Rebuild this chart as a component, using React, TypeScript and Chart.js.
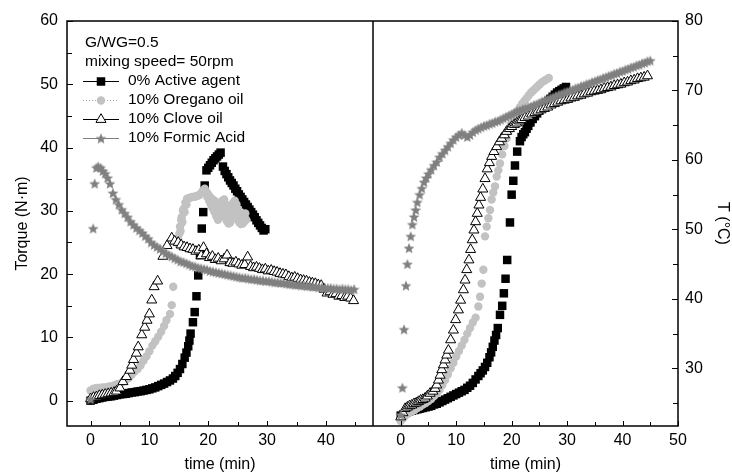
import React, { useEffect, useRef } from 'react';
import { Chart, registerables } from 'chart.js';

Chart.register(...registerables);

type Pt = [number, number];

// ---------------- text ----------------
const seriesLabels = ['0% Active agent', '10% Oregano oil', '10% Clove oil', '10% Formic Acid'];
const legendHeader = ['G/WG=0.5', 'mixing speed= 50rpm'];
const xTitle = 'time (min)';
const torqueTitle = 'Torque (N\u00B7m)';
const tempTitle = 'T (\u00B0C)';

// ---------------- ticks ----------------
const torqueTicks = [0, 10, 20, 30, 40, 50, 60];
const torqueMinor = [5, 15, 25, 35, 45, 55];
const timeTicksLeft = [0, 10, 20, 30, 40];
const timeMinorLeft = [5, 15, 25, 35, 45];
const timeTicksRight = [0, 10, 20, 30, 40, 50];
const timeMinorRight = [5, 15, 25, 35, 45];
const tempTicks = [30, 40, 50, 60, 70, 80];
const tempMinor = [25, 35, 45, 55, 65, 75];

// ---------------- torque (left panel): [time, torque] ----------------
const torqueActive: Pt[] = [
  [0, 0.0], [0.5, 0.15], [1, 0.3], [1.5, 0.4], [2, 0.5], [2.5, 0.6], [3, 0.65], [3.5, 0.7], [4, 0.8], [4.5, 0.9],
  [5, 1.0], [5.5, 1.05], [6, 1.1], [6.5, 1.2], [7, 1.3], [7.5, 1.35], [8, 1.45], [8.5, 1.5], [9, 1.6], [9.5, 1.7],
  [10, 1.8], [10.5, 1.95], [11, 2.1], [11.5, 2.3], [12, 2.5], [12.5, 2.7], [13, 2.95], [13.5, 3.2], [14, 3.5],
  [14.4, 3.9], [14.8, 4.4], [15.2, 5.0], [15.6, 5.8], [16.0, 6.8], [16.3, 7.6], [16.6, 8.6], [16.8, 9.5], [17.0, 10.6],
  [17.4, 12.4], [17.7, 14.0], [18.0, 16.5], [18.3, 19.8], [18.6, 23.0], [18.9, 27.2], [19.15, 29.8], [19.4, 34.0],
  [19.7, 36.4], [20.0, 36.8], [20.3, 37.2], [20.6, 37.6], [20.9, 38.0], [21.2, 38.3], [21.5, 38.6], [21.8, 38.9],
  [22.1, 39.2], [22.5, 37.0], [22.8, 36.3], [23.1, 35.8], [23.4, 35.3], [23.7, 34.8], [24.0, 34.4], [24.3, 34.0],
  [24.6, 33.5], [24.9, 33.1], [25.2, 32.6], [25.5, 32.2], [25.8, 31.8], [26.1, 31.4], [26.4, 31.0], [26.7, 30.6],
  [27.0, 30.2], [27.3, 29.8], [27.6, 29.4], [27.9, 29.0], [28.2, 28.5], [28.5, 28.1], [28.8, 27.7], [29.1, 27.3],
  [29.4, 26.9], [29.7, 27.1],
];
const torqueOregano: Pt[] = [
  [0, 1.6], [0.5, 1.9], [1, 2.0], [1.5, 2.0], [2, 2.1], [2.5, 2.1], [3, 2.2], [3.5, 2.3], [4, 2.4], [4.5, 2.6],
  [5, 2.7], [5.5, 3.0], [6, 3.3], [6.5, 3.6], [7, 4.1], [7.5, 4.6], [8, 5.0], [8.5, 5.6], [9, 6.3], [9.5, 7.0],
  [10, 7.8], [10.5, 8.7], [11, 9.4], [11.5, 10.1], [12, 10.9], [12.5, 11.8], [12.9, 12.7], [13.5, 13.7], [13.8, 15.1],
  [14.05, 18.0], [14.9, 25.5], [15.0, 24.6], [15.1, 26.4], [15.2, 27.5], [15.3, 26.8], [15.4, 28.6], [15.5, 29.0],
  [15.6, 28.2], [15.7, 30.0], [15.8, 30.3], [16.0, 29.8], [16.1, 31.3], [16.3, 31.0], [16.4, 31.9], [16.7, 32.0],
  [17.0, 32.1], [17.3, 32.2], [17.6, 32.2], [17.9, 32.3], [18.2, 32.4], [18.5, 32.5], [18.8, 32.8], [19.1, 33.2],
  [19.4, 33.5], [19.7, 33.0], [19.85, 32.2], [20.0, 32.6], [20.15, 31.6], [20.3, 32.2], [20.45, 31.0], [20.6, 31.9],
  [20.75, 30.4], [20.9, 31.7], [21.05, 29.8], [21.2, 31.5], [21.35, 29.2], [21.5, 30.8], [21.65, 28.6], [21.8, 30.2],
  [21.95, 29.0], [22.1, 31.0], [22.25, 29.4], [22.4, 31.6], [22.55, 30.0], [22.7, 31.8], [22.85, 29.2], [23.0, 31.0],
  [23.15, 28.4], [23.3, 30.2], [23.45, 28.0], [23.6, 29.6], [23.75, 28.2], [23.9, 30.4], [24.05, 28.8], [24.2, 31.2],
  [24.35, 29.4], [24.5, 31.6], [24.65, 29.6], [24.8, 31.0], [24.95, 28.8], [25.1, 30.2], [25.25, 28.2], [25.4, 29.6],
  [25.55, 27.9], [25.7, 29.2], [25.85, 28.0], [26.0, 29.4], [26.15, 28.3], [26.3, 29.6], [26.45, 28.6],
];
const torqueClove: Pt[] = [
  [0, 0.3], [0.5, 0.5], [1, 0.6], [1.5, 0.8], [2, 0.9], [2.5, 1.0], [3, 1.1], [3.5, 1.2], [4, 1.3], [4.4, 1.5],
  [5.0, 2.0], [5.5, 3.0], [6.1, 3.8], [6.7, 4.8], [7.0, 5.6], [7.3, 6.5], [7.8, 7.5], [8.1, 8.5], [8.7, 10.4],
  [9.2, 11.6], [9.6, 12.7], [10.0, 13.7], [10.4, 15.9], [10.8, 18.0], [11.4, 18.9], [12.3, 22.8], [13.0, 24.5],
  [13.8, 25.7], [14.3, 25.2], [14.9, 25.0], [15.4, 24.6], [15.9, 24.3], [16.4, 24.2], [16.9, 24.0], [17.4, 23.9],
  [17.9, 23.6], [18.4, 23.8], [18.8, 22.9], [19.2, 24.2], [19.7, 23.2], [20.2, 22.6], [20.7, 22.8], [21.2, 22.3],
  [21.7, 22.5], [22.2, 22.1], [22.7, 22.4], [23.2, 23.0], [23.7, 21.8], [24.2, 21.7], [24.7, 21.9], [25.2, 21.6],
  [25.7, 21.4], [26.2, 21.5], [26.7, 22.7], [27.2, 21.2], [27.7, 21.0], [28.2, 21.1], [28.7, 20.9], [29.2, 20.7],
  [29.7, 20.8], [30.2, 20.5], [30.7, 20.6], [31.2, 20.4], [31.7, 20.3], [32.2, 20.1], [32.7, 20.0], [33.2, 19.9],
  [33.7, 19.6], [34.2, 19.4], [34.7, 19.5], [35.2, 19.3], [35.7, 19.1], [36.2, 19.0], [36.7, 18.9], [37.2, 18.7],
  [37.7, 18.6], [38.2, 18.5], [38.7, 18.3], [39.2, 18.2], [39.7, 17.6], [40.2, 17.0], [40.7, 17.2], [41.2, 16.8],
  [41.7, 16.9], [42.2, 16.5], [42.7, 16.6], [43.2, 16.3], [43.7, 16.5], [44.2, 16.2], [44.7, 15.8],
];
const torqueFormic: Pt[] = [
  [0, 0.2], [0.45, 27.2], [0.7, 34.3], [1.0, 36.8], [1.3, 37.0], [1.7, 36.8], [2.1, 36.3], [2.5, 35.9], [2.9, 35.2],
  [3.3, 34.3], [3.8, 32.8], [4.3, 31.8], [4.8, 31.0], [5.3, 30.2], [5.8, 29.6], [6.3, 29.0], [6.8, 28.3], [7.3, 27.8],
  [7.8, 27.3], [8.3, 26.9], [8.8, 26.5], [9.3, 26.0], [9.8, 25.6], [10.3, 25.0], [10.8, 24.6], [11.3, 24.3],
  [11.8, 24.0], [12.3, 23.6], [12.8, 23.3], [13.3, 23.0], [13.8, 22.8], [14.3, 22.5], [14.8, 22.3], [15.3, 22.0],
  [15.8, 21.9], [16.3, 21.7], [16.8, 21.5], [17.3, 21.3], [17.8, 21.2], [18.3, 21.0], [18.8, 20.9], [19.3, 20.8],
  [19.8, 20.7], [20.3, 20.5], [20.8, 20.4], [21.3, 20.3], [21.8, 20.2], [22.3, 20.1], [22.8, 20.0], [23.3, 19.9],
  [23.8, 19.8], [24.3, 19.7], [24.8, 19.6], [25.3, 19.5], [25.8, 19.4], [26.3, 19.4], [26.8, 19.3], [27.3, 19.2],
  [27.8, 19.2], [28.3, 19.1], [28.8, 19.0], [29.3, 19.0], [29.8, 18.9], [30.3, 18.9], [30.8, 18.8], [31.3, 18.7],
  [31.8, 18.7], [32.3, 18.6], [32.8, 18.6], [33.3, 18.5], [33.8, 18.4], [34.3, 18.4], [34.8, 18.3], [35.3, 18.3],
  [35.8, 18.2], [36.3, 18.2], [36.8, 18.1], [37.3, 18.1], [37.8, 18.0], [38.3, 18.0], [38.8, 17.9], [39.3, 17.9],
  [39.8, 17.8], [40.3, 17.8], [40.8, 17.8], [41.3, 17.7], [41.8, 17.7], [42.3, 17.6], [42.8, 17.7], [43.3, 17.6],
  [43.8, 17.6], [44.3, 17.5], [44.8, 17.6],
];

// ---------------- temperature (right panel): [time, T] ----------------
const tempActive: Pt[] = [
  [0, 23.2], [0.5, 23.4], [1, 23.6], [1.5, 23.8], [2, 23.9], [2.5, 24.0], [3, 24.1], [3.5, 24.2], [4, 24.3], [4.5, 24.4],
  [5, 24.5], [5.5, 24.6], [6, 24.8], [6.5, 24.9], [7, 25.1], [7.5, 25.3], [8, 25.5], [8.5, 25.7], [9, 25.9], [9.5, 26.1],
  [10, 26.3], [10.5, 26.5], [11, 26.7], [11.5, 26.9], [12, 27.2], [12.5, 27.5], [13, 27.9], [13.5, 28.4], [14, 28.9],
  [14.4, 29.3], [14.8, 29.7], [15.2, 30.2], [15.6, 30.8], [16.0, 31.6], [16.3, 32.3], [16.6, 33.1], [16.9, 34.0],
  [17.2, 34.8], [17.5, 35.8], [17.9, 37.7], [18.3, 39.0], [18.6, 40.8], [18.9, 42.9], [19.2, 45.6], [19.7, 51.0],
  [20.0, 55.0], [20.3, 57.0], [20.6, 59.2], [21.0, 61.2], [21.5, 62.7], [21.8, 63.3], [22.1, 63.7], [22.4, 64.0],
  [22.7, 64.5], [23.0, 64.9], [23.4, 65.4], [23.8, 65.9], [24.2, 66.3], [24.6, 66.7], [25.0, 67.1], [25.4, 67.5],
  [25.8, 67.9], [26.2, 68.2], [26.6, 68.5], [27.0, 68.8], [27.4, 69.1], [27.8, 69.4], [28.2, 69.7], [28.6, 69.9],
  [29.0, 70.1], [29.4, 70.3], [29.8, 70.5],
];
const tempOregano: Pt[] = [
  [0, 22.4], [0.5, 22.9], [1, 23.3], [1.5, 23.6], [2, 23.8], [2.5, 24.0], [3, 24.3], [3.5, 24.5], [4, 24.8], [4.5, 25.0],
  [5, 25.3], [5.5, 25.6], [6, 26.0], [6.5, 26.4], [7, 26.9], [7.5, 27.6], [8, 28.3], [8.5, 29.1], [9, 30.0], [9.5, 30.8],
  [10, 31.7], [10.5, 32.5], [11, 33.3], [11.5, 34.1], [12, 35.0], [12.5, 35.8], [13, 36.6], [13.5, 37.3], [14.0, 38.9],
  [14.3, 40.3], [14.6, 42.2], [14.9, 44.2], [15.2, 49.0], [15.5, 50.4], [15.8, 51.6], [16.1, 52.8], [16.4, 54.3],
  [16.7, 55.3], [17.0, 56.2], [17.3, 57.6], [17.6, 58.5], [17.9, 59.5], [18.3, 60.8], [18.7, 62.0], [19.1, 63.1],
  [19.5, 64.2], [19.9, 65.1], [20.3, 65.9], [20.7, 66.6], [21.1, 67.1], [21.5, 67.6], [21.9, 68.1], [22.3, 68.5],
  [22.7, 68.9], [23.1, 69.3], [23.5, 69.7], [23.9, 70.0], [24.3, 70.3], [24.7, 70.6], [25.1, 70.9], [25.5, 71.2],
  [25.9, 71.4], [26.3, 71.6], [26.7, 71.8],
];
const tempClove: Pt[] = [
  [0, 23.0], [0.4, 23.6], [0.8, 24.2], [1.2, 24.4], [1.6, 24.6], [2.0, 24.7], [2.4, 24.9], [2.8, 25.0], [3.2, 25.2],
  [3.6, 25.4], [4.0, 25.5], [4.4, 25.7], [4.8, 26.0], [5.3, 26.4], [5.8, 26.7], [6.2, 27.1], [6.5, 27.6], [6.8, 28.3],
  [7.1, 29.0], [7.4, 29.8], [7.7, 30.5], [8.0, 31.2], [8.3, 31.9], [8.6, 32.6], [9.0, 34.1], [9.5, 35.5], [9.9, 37.0],
  [10.4, 38.4], [10.8, 39.8], [11.3, 41.3], [11.6, 42.7], [11.9, 44.2], [12.3, 45.6], [12.6, 47.1], [12.9, 48.5],
  [13.2, 49.9], [13.5, 51.1], [13.8, 52.3], [14.1, 53.5], [14.4, 54.6], [14.8, 55.8], [15.2, 57.3], [15.6, 58.7],
  [16.0, 59.6], [16.4, 60.5], [16.8, 61.2], [17.3, 61.9], [17.8, 62.6], [18.2, 63.1], [18.7, 63.6], [19.1, 64.1],
  [19.6, 64.5], [20.0, 64.8], [20.5, 65.1], [20.9, 65.3], [21.4, 65.6], [21.8, 65.8], [22.4, 66.1], [23.0, 66.3],
  [23.6, 66.6], [24.2, 66.8], [24.7, 67.0], [25.3, 67.2], [25.9, 67.4], [26.5, 67.6], [27.1, 67.9], [27.7, 68.1],
  [28.3, 68.3], [28.9, 68.5], [29.5, 68.6], [30.1, 68.7], [30.7, 68.9], [31.3, 69.0], [31.9, 69.2], [32.5, 69.3],
  [33.1, 69.5], [33.7, 69.6], [34.3, 69.8], [34.9, 69.9], [35.5, 70.0], [36.1, 70.1], [36.7, 70.3], [37.3, 70.4],
  [37.9, 70.5], [38.5, 70.7], [39.1, 70.8], [39.7, 70.9], [40.3, 71.1], [40.9, 71.2], [41.5, 71.4], [42.1, 71.5],
  [42.7, 71.7], [43.3, 71.8], [43.9, 71.9], [44.5, 72.1],
];
const tempFormic: Pt[] = [
  [0, 23.3], [0.3, 27.2], [0.6, 35.6], [0.95, 41.9], [1.2, 45.0], [1.5, 47.3], [1.8, 49.0], [2.1, 50.7], [2.4, 51.8],
  [2.7, 52.8], [3.0, 53.9], [3.4, 55.0], [3.8, 55.9], [4.2, 56.8], [4.6, 57.4], [5.0, 58.0], [5.5, 58.6], [6.0, 59.2],
  [6.5, 59.7], [7.0, 60.4], [7.5, 60.9], [8.0, 61.4], [8.5, 61.9], [9.0, 62.4], [9.5, 62.9], [10.0, 63.3], [10.5, 63.6],
  [11.0, 63.9], [11.5, 63.6], [12.0, 63.3], [12.5, 63.6], [13.0, 64.0], [13.5, 64.3], [14.0, 64.5], [14.5, 64.7],
  [15.0, 64.9], [15.5, 65.0], [16.0, 65.2], [16.5, 65.3], [17.0, 65.5], [17.5, 65.6], [18.0, 65.8], [18.5, 66.0],
  [19.0, 66.2], [19.5, 66.4], [20.0, 66.6], [20.5, 66.8], [21.0, 67.0], [21.5, 67.1], [22.0, 67.3], [22.5, 67.4],
  [23.0, 67.6], [23.5, 67.7], [24.0, 67.9], [24.5, 68.0], [25.0, 68.2], [25.5, 68.4], [26.0, 68.6], [26.5, 68.7],
  [27.0, 68.9], [27.5, 69.0], [28.0, 69.2], [28.5, 69.4], [29.0, 69.5], [29.5, 69.7], [30.0, 69.8], [30.5, 70.0],
  [31.0, 70.1], [31.5, 70.3], [32.0, 70.4], [32.5, 70.6], [33.0, 70.7], [33.5, 70.9], [34.0, 71.0], [34.5, 71.2],
  [35.0, 71.3], [35.5, 71.5], [36.0, 71.6], [36.5, 71.8], [37.0, 71.9], [37.5, 72.1], [38.0, 72.2], [38.5, 72.4],
  [39.0, 72.5], [39.5, 72.7], [40.0, 72.8], [40.5, 73.0], [41.0, 73.1], [41.5, 73.3], [42.0, 73.4], [42.5, 73.6],
  [43.0, 73.7], [43.5, 73.9], [44.0, 74.0], [44.5, 74.2], [45.0, 74.3],
];

// ---------------- styling ----------------
const FONT = '"Liberation Sans", Arial, Helvetica, sans-serif';
const GREY_LIGHT = '#c2c2c2';
const GREY_DARK = '#808080';

function starImage(size: number, color: string): HTMLCanvasElement {
  const c = document.createElement('canvas');
  c.width = size;
  c.height = size;
  const ctx = c.getContext('2d')!;
  const cx = size / 2;
  const cy = size / 2 + 0.5;
  const R = size / 2 - 0.3;
  const r = R * 0.45;
  ctx.beginPath();
  for (let i = 0; i < 10; i++) {
    const a = -Math.PI / 2 + (i * Math.PI) / 5;
    const rad = i % 2 === 0 ? R : r;
    ctx.lineTo(cx + rad * Math.cos(a), cy + rad * Math.sin(a));
  }
  ctx.closePath();
  ctx.fillStyle = color;
  ctx.fill();
  return c;
}

function markerStyle(i: number, star: HTMLCanvasElement): any {
  if (i === 0) return { pointStyle: 'rect', pointRadius: 6, pointBackgroundColor: '#000', pointBorderColor: '#000', pointBorderWidth: 0, order: 4 };
  if (i === 1) return { pointStyle: 'circle', pointRadius: 4.2, pointBackgroundColor: GREY_LIGHT, pointBorderColor: GREY_LIGHT, pointBorderWidth: 0, order: 3 };
  if (i === 2) return { pointStyle: 'triangle', pointRadius: 5.8, pointBackgroundColor: '#fff', pointBorderColor: '#000', pointBorderWidth: 1, order: 2 };
  return { pointStyle: star, pointRadius: 6, pointBackgroundColor: GREY_DARK, pointBorderColor: GREY_DARK, pointBorderWidth: 0, order: 1 };
}

function makeDatasets(series: Pt[][], star: HTMLCanvasElement) {
  return series.map((s, i) => ({
    label: seriesLabels[i],
    data: s.map(([x, y]) => ({ x, y })),
    showLine: false,
    ...markerStyle(i, star),
  }));
}

const framePlugin = {
  id: 'frameTicks',
  afterDraw(chart: any, _args: any, opts: any) {
    const { ctx, chartArea } = chart;
    const { left, right, top, bottom } = chartArea;
    const xs = chart.scales.x;
    const ys = chart.scales.y;
    ctx.save();
    ctx.strokeStyle = '#000';
    ctx.lineWidth = 1;
    ctx.beginPath();
    const xMark = (vals: number[], len: number) => {
      for (const v of vals) {
        const p = Math.round(xs.getPixelForValue(v)) + 0.5;
        ctx.moveTo(p, bottom);
        ctx.lineTo(p, bottom - len);
      }
    };
    const edge = opts.ySide === 'left' ? left : right;
    const dir = opts.ySide === 'left' ? 1 : -1;
    const yMark = (vals: number[], len: number) => {
      for (const v of vals) {
        const p = Math.round(ys.getPixelForValue(v)) + 0.5;
        ctx.moveTo(edge, p);
        ctx.lineTo(edge + dir * len, p);
      }
    };
    xMark(opts.xMajor, 5);
    xMark(opts.xMinor, 4);
    yMark(opts.yMajor, 6);
    yMark(opts.yMinor, 5);
    ctx.stroke();
    ctx.lineWidth = 1.5;
    ctx.strokeRect(left, top, right - left, bottom - top);
    ctx.restore();
  },
};

function drawLegendMarker(ctx: CanvasRenderingContext2D, i: number, x: number, y: number, star: HTMLCanvasElement) {
  if (i === 0) {
    ctx.fillStyle = '#000';
    ctx.fillRect(x - 4.25, y - 4.25, 8.5, 8.5);
  } else if (i === 1) {
    ctx.fillStyle = GREY_LIGHT;
    ctx.beginPath();
    ctx.arc(x, y, 4.2, 0, Math.PI * 2);
    ctx.fill();
  } else if (i === 2) {
    const r = 5.8;
    ctx.beginPath();
    ctx.moveTo(x, y - r);
    ctx.lineTo(x + r * 0.866, y + r * 0.5);
    ctx.lineTo(x - r * 0.866, y + r * 0.5);
    ctx.closePath();
    ctx.fillStyle = '#fff';
    ctx.fill();
    ctx.lineWidth = 1;
    ctx.strokeStyle = '#000';
    ctx.stroke();
  } else {
    ctx.drawImage(star, x - star.width / 2, y - star.height / 2);
  }
}

function legendPlugin(star: HTMLCanvasElement) {
  return {
    id: 'customLegend',
    afterDraw(chart: any) {
      const ctx: CanvasRenderingContext2D = chart.ctx;
      ctx.save();
      ctx.font = `15.5px ${FONT}`;
      ctx.fillStyle = '#000';
      ctx.textBaseline = 'middle';
      ctx.textAlign = 'left';
      const x0 = 85;
      const y0 = 42.5;
      const dy = 19;
      legendHeader.forEach((t, i) => ctx.fillText(t, x0, y0 + i * dy));
      seriesLabels.forEach((lab, i) => {
        const y = Math.round(y0 + (i + 2) * dy) + 0.5;
        ctx.save();
        ctx.beginPath();
        ctx.lineWidth = 1;
        if (i === 1) {
          ctx.strokeStyle = '#a0a0a0';
          ctx.setLineDash([1, 2]);
        } else if (i === 3) {
          ctx.strokeStyle = GREY_DARK;
        } else {
          ctx.strokeStyle = '#000';
        }
        ctx.moveTo(83, y);
        ctx.lineTo(119, y);
        ctx.stroke();
        ctx.setLineDash([]);
        drawLegendMarker(ctx, i, 101, y, star);
        ctx.restore();
        ctx.fillStyle = '#000';
        ctx.fillText(lab, 128, y0 + (i + 2) * dy);
      });
      ctx.restore();
    },
  };
}

const tickFont = { family: FONT, size: 16 };
const titleFont = { family: FONT, size: 16 };

function fixedTicks(vals: number[]) {
  return (axis: any) => {
    axis.ticks = vals.map((v) => ({ value: v }));
  };
}

export default function App() {
  const leftRef = useRef<HTMLCanvasElement>(null);
  const rightRef = useRef<HTMLCanvasElement>(null);

  useEffect(() => {
    const star = starImage(12, GREY_DARK);
    const common = {
      responsive: false,
      animation: false as const,
      events: [] as any[],
    };

    const left = new Chart(leftRef.current!, {
      type: 'scatter',
      data: { datasets: makeDatasets([torqueActive, torqueOregano, torqueClove, torqueFormic], star) as any },
      options: {
        ...common,
        layout: { autoPadding: false, padding: { top: 21, left: 0, right: 0, bottom: 0 } },
        plugins: {
          legend: { display: false },
          tooltip: { enabled: false },
          frameTicks: { xMajor: timeTicksLeft, xMinor: timeMinorLeft, yMajor: torqueTicks, yMinor: torqueMinor, ySide: 'left' },
        } as any,
        scales: {
          x: {
            type: 'linear',
            position: 'bottom',
            min: -4,
            max: 48,
            afterBuildTicks: fixedTicks(timeTicksLeft),
            afterFit: (s: any) => { s.height = 48; },
            grid: { display: false, drawTicks: false },
            border: { display: false },
            ticks: { font: tickFont, color: '#000', padding: 5, maxRotation: 0, autoSkip: false },
            title: { display: true, text: xTitle, font: titleFont, color: '#000', padding: { top: 0, bottom: 0 } },
          },
          y: {
            type: 'linear',
            position: 'left',
            min: -4,
            max: 60,
            afterBuildTicks: fixedTicks(torqueTicks),
            afterFit: (s: any) => { s.width = 67; },
            grid: { display: false, drawTicks: false },
            border: { display: false },
            ticks: { font: tickFont, color: '#000', padding: 9, autoSkip: false },
            title: { display: true, text: torqueTitle, font: titleFont, color: '#000', padding: { top: 13, bottom: 0 } },
          },
        },
      } as any,
      plugins: [framePlugin, legendPlugin(star)],
    });

    const right = new Chart(rightRef.current!, {
      type: 'scatter',
      data: { datasets: makeDatasets([tempActive, tempOregano, tempClove, tempFormic], star) as any },
      options: {
        ...common,
        layout: { autoPadding: false, padding: { top: 21, left: 0, right: 0, bottom: 0 } },
        plugins: {
          legend: { display: false },
          tooltip: { enabled: false },
          frameTicks: { xMajor: timeTicksRight, xMinor: timeMinorRight, yMajor: tempTicks, yMinor: tempMinor, ySide: 'right' },
        } as any,
        scales: {
          x: {
            type: 'linear',
            position: 'bottom',
            min: -5,
            max: 50,
            afterBuildTicks: fixedTicks(timeTicksRight),
            afterFit: (s: any) => { s.height = 48; },
            grid: { display: false, drawTicks: false },
            border: { display: false },
            ticks: { font: tickFont, color: '#000', padding: 5, maxRotation: 0, autoSkip: false },
            title: { display: true, text: xTitle, font: titleFont, color: '#000', padding: { top: 0, bottom: 0 } },
          },
          y: {
            type: 'linear',
            position: 'right',
            min: 21.7,
            max: 80,
            afterBuildTicks: fixedTicks(tempTicks),
            afterFit: (s: any) => { s.width = 54; },
            grid: { display: false, drawTicks: false },
            border: { display: false },
            ticks: { font: tickFont, color: '#000', padding: 7, autoSkip: false },
            title: { display: true, text: tempTitle, font: titleFont, color: '#000', padding: { top: 0, bottom: 0 } },
          },
        },
      } as any,
      plugins: [framePlugin],
    });

    return () => {
      left.destroy();
      right.destroy();
    };
  }, []);

  return (
    <div style={{ position: 'absolute', left: 0, top: 0, width: 732, height: 474, background: '#fff' }}>
      <canvas ref={leftRef} width={373} height={474} style={{ position: 'absolute', left: 0, top: 0 }} />
      <canvas ref={rightRef} width={359} height={474} style={{ position: 'absolute', left: 373, top: 0 }} />
    </div>
  );
}
